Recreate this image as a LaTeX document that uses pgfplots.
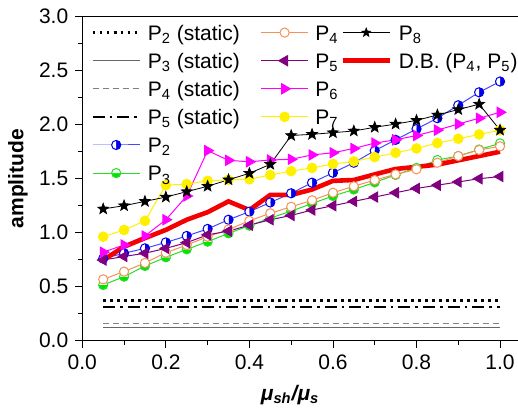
\documentclass[border=0pt]{standalone}
\usepackage{pgfplots}
\pgfplotsset{compat=1.18}
\usepackage{fontspec}
\setmainfont{Liberation Sans}
\usetikzlibrary{plotmarks}

\pgfdeclareplotmark{fstar}{%
  \pgfpathmoveto{\pgfpointpolar{90}{\pgfplotmarksize}}%
  \pgfpathlineto{\pgfpointpolar{126}{0.42\pgfplotmarksize}}%
  \pgfpathlineto{\pgfpointpolar{162}{\pgfplotmarksize}}%
  \pgfpathlineto{\pgfpointpolar{198}{0.42\pgfplotmarksize}}%
  \pgfpathlineto{\pgfpointpolar{234}{\pgfplotmarksize}}%
  \pgfpathlineto{\pgfpointpolar{270}{0.42\pgfplotmarksize}}%
  \pgfpathlineto{\pgfpointpolar{306}{\pgfplotmarksize}}%
  \pgfpathlineto{\pgfpointpolar{342}{0.42\pgfplotmarksize}}%
  \pgfpathlineto{\pgfpointpolar{18}{\pgfplotmarksize}}%
  \pgfpathlineto{\pgfpointpolar{54}{0.42\pgfplotmarksize}}%
  \pgfpathclose
  \pgfusepathqfillstroke
}

\definecolor{cblue}{RGB}{70,70,255}
\definecolor{cbluef}{RGB}{0,0,235}
\definecolor{cgreen}{RGB}{40,220,40}
\definecolor{cgreenf}{RGB}{0,230,0}
\definecolor{corange}{RGB}{245,145,85}
\definecolor{cpurple}{RGB}{128,0,128}
\definecolor{cmagenta}{RGB}{255,0,255}
\definecolor{cyellow}{RGB}{255,240,0}
\definecolor{cred}{RGB}{245,0,0}

\newcommand{\ls}{\rule{0pt}{11.75pt}}

\pgfplotsset{
  p2s/.style={black, line width=1.3pt, dash pattern=on 1.3pt off 2.2pt},
  p3s/.style={black!60, line width=0.6pt},
  p4s/.style={gray, line width=0.5pt, dash pattern=on 3pt off 2pt},
  p5s/.style={black, line width=1.2pt, dash pattern=on 6pt off 2.5pt on 1.3pt off 2.5pt},
  p2m/.style={cblue, line width=0.5pt, mark=halfcircle*, mark size=2.3pt, mark options={solid, draw=cbluef, fill=cbluef, rotate=-90, line width=0.5pt}},
  p3m/.style={cgreen, line width=0.5pt, mark=halfcircle*, mark size=2.3pt, mark options={solid, draw=cgreen, fill=cgreenf, rotate=180, line width=0.5pt}},
  p4m/.style={corange, line width=0.5pt, mark=*, mark size=2.3pt, mark options={solid, draw=corange, fill=white, line width=0.5pt}},
  p5m/.style={cpurple, line width=0.5pt, mark=triangle*, mark size=2.9pt, mark options={solid, draw=cpurple, fill=cpurple, rotate=90}},
  p6m/.style={cmagenta, line width=0.5pt, mark=triangle*, mark size=2.9pt, mark options={solid, draw=cmagenta, fill=cmagenta, rotate=-90}},
  p7m/.style={cyellow, line width=0.5pt, mark=*, mark size=2.4pt, mark options={solid, draw=cyellow, fill=cyellow}},
  p8m/.style={black, line width=0.4pt, mark=fstar, mark size=2.8pt, mark options={solid, draw=black, fill=black}},
  p8l/.style={black, line width=0.4pt, mark=fstar, mark size=2.2pt, mark options={solid, draw=black, fill=black}},
  dbm/.style={cred, line width=2.3pt, no markers},
}

\pgfplotstableread{
x P2 P3 P4 P5 P6 P7 P8 DB
0.05 0.76 0.516 0.568 0.747 0.82 0.963 1.22 0.747
0.10 0.81 0.593 0.64 0.78 0.886 1.025 1.25 0.87
0.15 0.855 0.692 0.72 0.81 0.97 1.11 1.29 0.95
0.20 0.91 0.772 0.815 0.855 1.12 1.44 1.33 1.026
0.25 0.97 0.846 0.886 0.908 1.34 1.45 1.38 1.12
0.30 1.035 0.917 0.963 0.98 1.76 1.48 1.43 1.19
0.35 1.12 0.994 1.03 1.015 1.67 1.49 1.49 1.29
0.40 1.195 1.065 1.11 1.07 1.657 1.495 1.55 1.21
0.45 1.28 1.135 1.18 1.12 1.673 1.534 1.633 1.35
0.50 1.365 1.20 1.24 1.16 1.68 1.57 1.90 1.35
0.55 1.463 1.27 1.30 1.21 1.72 1.60 1.911 1.40
0.60 1.555 1.34 1.37 1.25 1.74 1.636 1.926 1.48
0.65 1.648 1.40 1.43 1.29 1.78 1.66 1.942 1.488
0.70 1.76 1.466 1.487 1.33 1.83 1.70 1.976 1.54
0.75 1.86 1.535 1.54 1.37 1.86 1.74 2.006 1.59
0.80 1.96 1.60 1.587 1.41 1.90 1.78 2.04 1.61
0.85 2.06 1.673 1.648 1.44 1.95 1.83 2.09 1.63
0.90 2.18 1.71 1.71 1.47 2.006 1.87 2.14 1.67
0.95 2.30 1.77 1.766 1.50 2.06 1.91 2.19 1.71
1.00 2.40 1.827 1.80 1.52 2.115 1.95 1.95 1.75
}\datatable

\begin{document}
\begin{tikzpicture}
\begin{axis}[
  font=\fontsize{10.5}{12.6}\selectfont,
  scale only axis, width=217.85pt, height=162pt,
  xmin=0, xmax=1.043, ymin=0, ymax=3,
  axis x line*=box, axis y line*=left,
  xtick={0,0.2,0.4,0.6,0.8,1.0}, ytick={0,0.5,1.0,1.5,2.0,2.5,3.0},
  minor x tick num=1, minor y tick num=1,
  xtick pos=bottom, ytick pos=left,
  tick align=outside, major tick length=3.5pt, minor tick length=2pt,
  tick style={black, line width=0.4pt},
  axis line style={black, line width=0.5pt},
  /pgf/number format/assume math mode=true,
  xticklabel style={/pgf/number format/.cd, fixed, fixed zerofill, precision=1},
  yticklabel style={/pgf/number format/.cd, fixed, fixed zerofill, precision=1},
  xlabel={\textbf{\textit{μ\textsubscript{sh}/μ\textsubscript{s}}}},
  ylabel={\textbf{amplitude}},
  xlabel style={at={(axis description cs:0.477,-0.168)}, anchor=center},
  ylabel style={at={(axis description cs:-0.1476,0.5)}, anchor=center, rotate=0},
  legend columns=3,
  legend image code/.code={\draw[mark repeat=2,mark phase=2,#1] plot coordinates {(0pt,-1.3pt) (11.75pt,-1.3pt) (23.5pt,-1.3pt)};},
  legend style={draw=none, fill=none, at={(axis description cs:0.02,1.0036)}, anchor=north west,
    inner sep=0pt, column sep=3pt, row sep=0pt,
    nodes={inner sep=0.4pt, anchor=west},
    /tikz/column 2/.style={column sep=10pt},
    /tikz/column 4/.style={column sep=0.5pt},
    font=\fontsize{10.5}{12.6}\selectfont},
  legend cell align=left,
]
\addplot[p2s, forget plot] coordinates {(0.05,0.37) (1.0,0.37)};
\addplot[p5s, forget plot] coordinates {(0.05,0.31) (1.0,0.31)};
\addplot[p4s, forget plot] coordinates {(0.05,0.16) (1.0,0.16)};
\addplot[p3s, forget plot] coordinates {(0.05,0.12) (1.0,0.12)};
\addplot[p2m, forget plot] table[x=x, y=P2] {\datatable};
\addplot[p3m, forget plot] table[x=x, y=P3] {\datatable};
\addplot[p4m, forget plot] table[x=x, y=P4] {\datatable};
\addplot[p5m, forget plot] table[x=x, y=P5] {\datatable};
\addplot[p6m, forget plot] table[x=x, y=P6] {\datatable};
\addplot[p7m, forget plot] table[x=x, y=P7] {\datatable};
\addplot[p8m, forget plot] table[x=x, y=P8] {\datatable};
\addplot[dbm, forget plot] table[x=x, y=DB] {\datatable};

\addlegendimage{p2s}\addlegendentry{\ls P\textsubscript{2} (static)}
\addlegendimage{p4m}\addlegendentry{\ls P\textsubscript{4}}
\addlegendimage{p8l}\addlegendentry{\ls P\textsubscript{8}}
\addlegendimage{p3s}\addlegendentry{\ls P\textsubscript{3} (static)}
\addlegendimage{p5m}\addlegendentry{\ls P\textsubscript{5}}
\addlegendimage{dbm}\addlegendentry{\ls D.B. (P\textsubscript{4}, P\textsubscript{5})}
\addlegendimage{p4s}\addlegendentry{\ls P\textsubscript{4} (static)}
\addlegendimage{p6m}\addlegendentry{\ls P\textsubscript{6}}
\addlegendimage{empty legend}\addlegendentry{\ls}
\addlegendimage{p5s}\addlegendentry{\ls P\textsubscript{5} (static)}
\addlegendimage{p7m}\addlegendentry{\ls P\textsubscript{7}}
\addlegendimage{empty legend}\addlegendentry{\ls}
\addlegendimage{p2m}\addlegendentry{\ls P\textsubscript{2}}
\addlegendimage{empty legend}\addlegendentry{\ls}
\addlegendimage{empty legend}\addlegendentry{\ls}
\addlegendimage{p3m}\addlegendentry{\ls P\textsubscript{3}}

\coordinate (BBsw) at (rel axis cs:0,0);
\coordinate (BBne) at (rel axis cs:1,1);
\end{axis}
\pgfresetboundingbox
\path[use as bounding box] ([xshift=-41.15pt,yshift=-33.15pt]BBsw) rectangle ([yshift=8.35pt]BBne);
\end{tikzpicture}
\end{document}
